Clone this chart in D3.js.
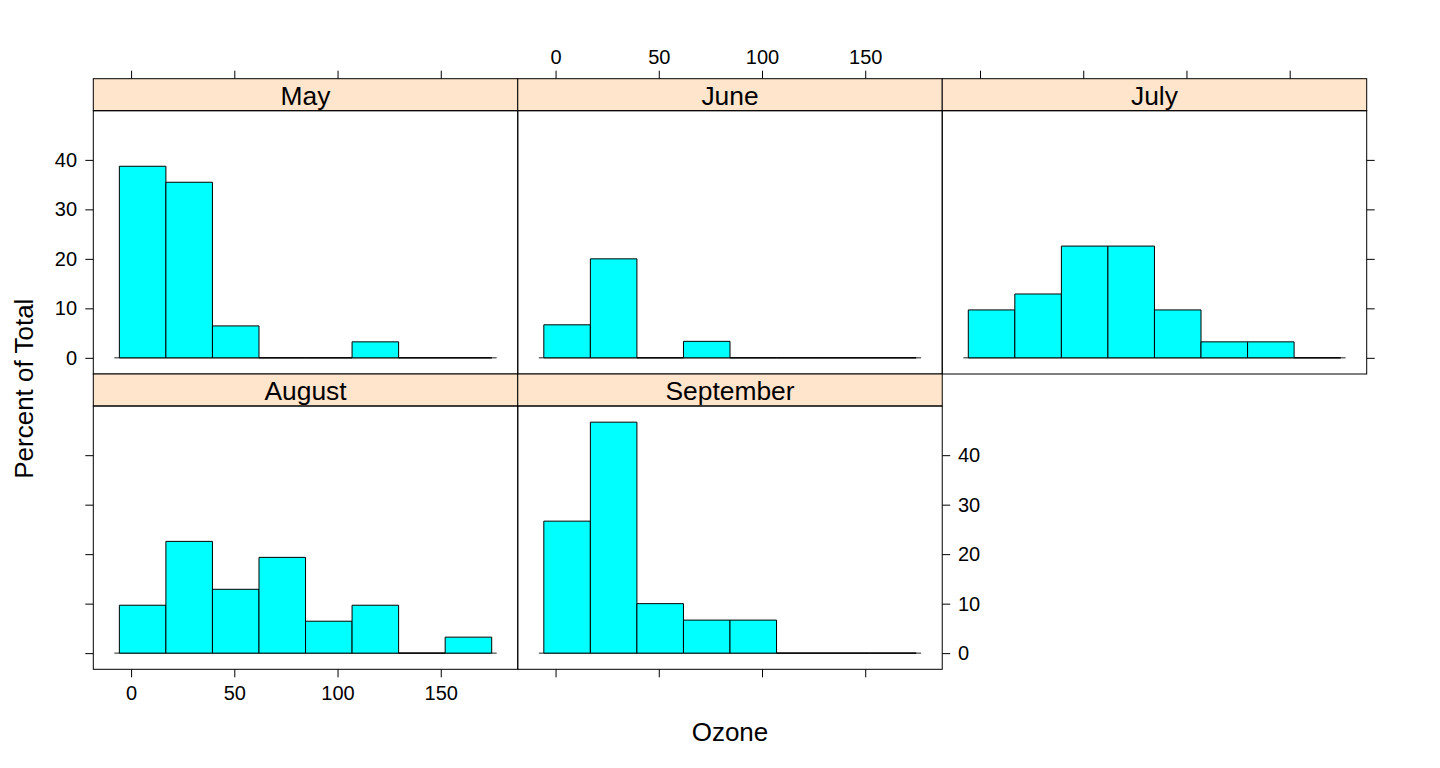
<!DOCTYPE html>
<html>
<head>
<meta charset="utf-8">
<script src="https://cdn.jsdelivr.net/npm/d3@7"></script>
<style>
  body { margin: 0; background: #fff; }
  svg text { font-family: "Liberation Sans", Arial, Helvetica, sans-serif; fill: #000; }
</style>
</head>
<body>
<script>
// histogram of Ozone by month, percent of total days in that month
var months = ["May", "June", "July", "August", "September"];
var breaks = [-5.68, 16.865, 39.41, 61.955, 84.5, 107.045, 129.59, 152.135, 174.68];

var mayPct = [38.71, 35.48, 6.45, 0, 0, 3.23, 0, 0];
var junePct = [6.67, 20.0, 0, 3.33, 0, 0, 0, 0];
var julyPct = [9.68, 12.9, 22.58, 22.58, 9.68, 3.23, 3.23, 0];
var augustPct = [9.68, 22.58, 12.9, 19.35, 6.45, 9.68, 0, 3.23];
var septemberPct = [26.67, 46.67, 10.0, 6.67, 6.67, 0, 0, 0];

var xTicks = [0, 50, 100, 150];
var yTicks = [0, 10, 20, 30, 40];

var percents = [mayPct, junePct, julyPct, augustPct, septemberPct];

// panel grid (lattice fills bottom-up, so May..July on top)
var panelPos = [
    { row: 0, col: 0 }, { row: 0, col: 1 }, { row: 0, col: 2 },
    { row: 1, col: 0 }, { row: 1, col: 1 }
];

var gridLeft = 93.3, gridRight = 1366.7, gridTop = 78.7;
var colW = (gridRight - gridLeft) / 3;
var stripH = 32;
var panelH = 263.3;
var rowH = stripH + panelH;

var xDom = [-18.3, 187.3];
var yMax = d3.max(percents, d => d3.max(d));
var yDom = [-yMax * 0.07, yMax * 1.07];

var svg = d3.select("body").append("svg")
    .attr("width", 1440)
    .attr("height", 768);

function drawPanel(i) {
    var p = panelPos[i];
    var x0 = gridLeft + p.col * colW;
    var stripTop = gridTop + p.row * rowH;
    var pTop = stripTop + stripH;
    var pBot = pTop + panelH;

    var x = d3.scaleLinear().domain(xDom).range([x0, x0 + colW]);
    var y = d3.scaleLinear().domain(yDom).range([pBot, pTop]);

    var g = svg.append("g");

    g.append("rect")
        .attr("x", x0).attr("y", stripTop)
        .attr("width", colW).attr("height", stripH)
        .attr("fill", "#ffe5cc").attr("stroke", "#000");

    g.append("text")
        .attr("x", x0 + colW / 2).attr("y", stripTop + 26.3)
        .attr("text-anchor", "middle")
        .style("font-size", "26.4px")
        .text(months[i]);

    g.append("rect")
        .attr("x", x0).attr("y", pTop)
        .attr("width", colW).attr("height", panelH)
        .attr("fill", "none").attr("stroke", "#000");

    // baseline runs a little past the outer bins
    g.append("line")
        .attr("x1", x(breaks[0] - 2.4)).attr("x2", x(breaks[breaks.length - 1] + 2.4))
        .attr("y1", y(0)).attr("y2", y(0))
        .attr("stroke", "#222");

    var bins = percents[i].map((v, k) => ({ a: breaks[k], b: breaks[k + 1], v: v }));

    // paths, so empty bins still show their outline as a flat line
    g.selectAll(".bar")
        .data(bins)
        .enter().append("path")
        .attr("class", "bar")
        .attr("d", d => "M" + x(d.a) + "," + y(0) + "V" + y(d.v) + "H" + x(d.b) + "V" + y(0) + "Z")
        .attr("fill", "#00ffff")
        .attr("stroke", "#000")
        .attr("stroke-width", 1);

    return { g: g, x: x, y: y, x0: x0, stripTop: stripTop, pBot: pBot };
}

function styleAxis(sel) {
    sel.select(".domain").remove();
    sel.selectAll("text").style("font-size", "20px");
    sel.selectAll("line").attr("stroke", "#000");
}

var panels = months.map((m, i) => drawPanel(i));

// top axes: ticks on all of the top row, labels only on June
panels.slice(0, 3).forEach((p, i) => {
    var ax = d3.axisTop(p.x).tickValues(xTicks).tickSize(8).tickPadding(6.7)
        .tickFormat(i === 1 ? d3.format("d") : "");
    svg.append("g")
        .attr("transform", "translate(0," + p.stripTop + ")")
        .call(ax).call(styleAxis);
});

// bottom axes: August labelled, September ticks only
[3, 4].forEach(i => {
    var p = panels[i];
    var ax = d3.axisBottom(p.x).tickValues(xTicks).tickSize(8).tickPadding(8.7)
        .tickFormat(i === 3 ? d3.format("d") : "");
    svg.append("g")
        .attr("transform", "translate(0," + p.pBot + ")")
        .call(ax).call(styleAxis);
});

// left axes: May labelled, August ticks only
[0, 3].forEach(i => {
    var p = panels[i];
    var ax = d3.axisLeft(p.y).tickValues(yTicks).tickSize(8).tickPadding(8.3)
        .tickFormat(i === 0 ? d3.format("d") : "");
    svg.append("g")
        .attr("transform", "translate(" + p.x0 + ",0)")
        .call(ax).call(styleAxis);
});

// right axes: July ticks only, September labelled
[2, 4].forEach(i => {
    var p = panels[i];
    var ax = d3.axisRight(p.y).tickValues(yTicks).tickSize(8).tickPadding(7.7)
        .tickFormat(i === 4 ? d3.format("d") : "");
    svg.append("g")
        .attr("transform", "translate(" + (p.x0 + colW) + ",0)")
        .call(ax).call(styleAxis);
});

svg.append("text")
    .attr("x", (gridLeft + gridRight) / 2).attr("y", 741)
    .attr("text-anchor", "middle")
    .style("font-size", "26px")
    .text("Ozone");

svg.append("text")
    .attr("transform", "translate(33.3,388.7) rotate(-90)")
    .attr("text-anchor", "middle")
    .style("font-size", "26px")
    .text("Percent of Total");
</script>
</body>
</html>
